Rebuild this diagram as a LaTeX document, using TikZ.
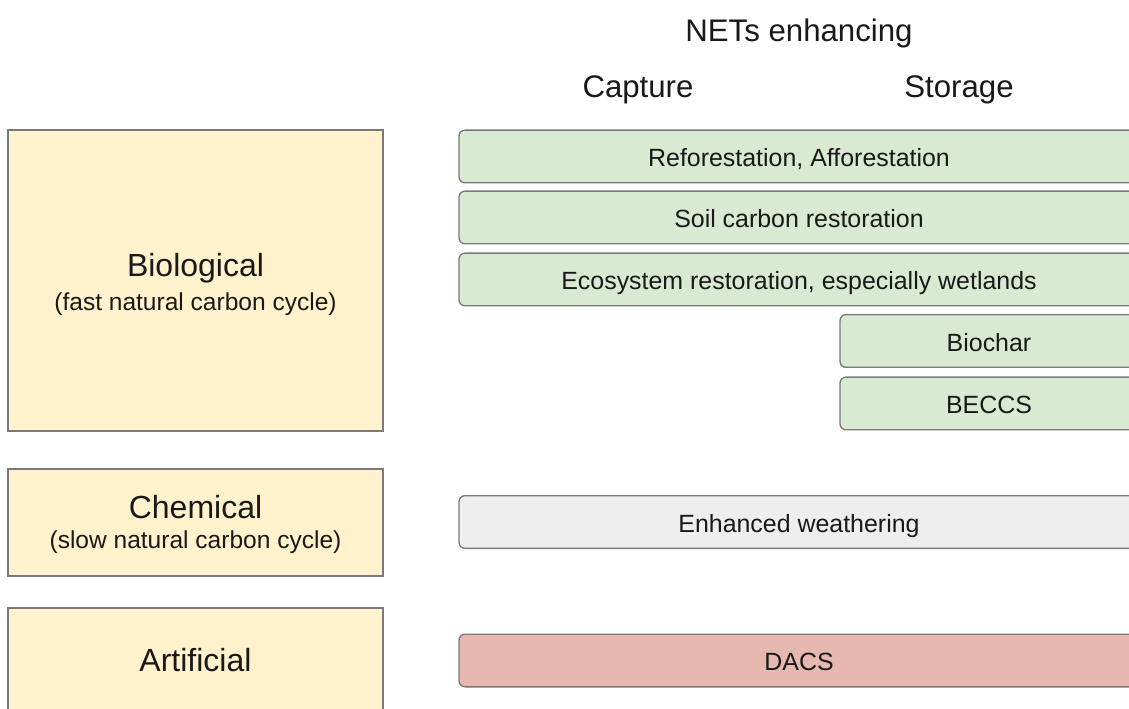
\documentclass[tikz,border=0pt]{standalone}
\usepackage{fontspec}
\setmainfont{Liberation Sans}
\definecolor{bordergray}{HTML}{7A7A7A}
\definecolor{yelfill}{HTML}{FFF2CC}
\definecolor{grnfill}{HTML}{D9EAD3}
\definecolor{gryfill}{HTML}{EEEEEE}
\definecolor{redfill}{HTML}{E6B8AF}
\begin{document}
\begin{tikzpicture}[x=0.75pt,y=-0.75pt,
  catbox/.style={draw=bordergray,fill=yelfill,line width=1pt,minimum width=281.25pt,inner sep=0pt},
  cattitle/.style={anchor=base,inner sep=0pt,font=\fontsize{24}{28}\selectfont,text=black!90},
  catsub/.style={anchor=base,inner sep=0pt,font=\fontsize{18.4}{22}\selectfont,text=black!90},
  netbox/.style={draw=bordergray,line width=1pt,rounded corners=4.5pt,minimum height=39.5pt,inner sep=0pt,
    text height=15.3pt,text depth=0pt,font=\fontsize{18.7}{22}\selectfont,text=black!90},
  widebox/.style={netbox,minimum width=510pt},
  narrowbox/.style={netbox,minimum width=223.5pt},
  head/.style={anchor=base,font=\fontsize{23.4}{28}\selectfont,text=black!90,inner sep=0pt}]
\useasboundingbox (0,0) rectangle (1129,709);
\clip (0,0) rectangle (1129,709);
\fill[white] (0,0) rectangle (1129,709);
% headers
\node[head] (nets) at (799,41.7) {NETs enhancing};
\node[head] (cap) at (638,98) {Capture};
\node[head] (sto) at (959,98) {Storage};
% category boxes
\node[catbox,minimum height=225.75pt] (bio) at (195.5,280.5) {};
\node[cattitle] (biot) at (195.5,277) {Biological};
\node[catsub] (bios) at (195.5,311) {(fast natural carbon cycle)};
\node[catbox,minimum height=80.25pt] (chem) at (195.5,522.5) {};
\node[cattitle] (chemt) at (195.5,518.3) {Chemical};
\node[catsub] (chems) at (195.5,548.3) {(slow natural carbon cycle)};
\node[catbox,minimum height=79.5pt] (art) at (195.5,661) {};
\node[cattitle] (artt) at (195.5,671.7) {Artificial};
% NET boxes
\node[widebox,fill=grnfill] (refo) at (799,156.5) {Reforestation, Afforestation};
\node[widebox,fill=grnfill] (soil) at (799,217.5) {Soil carbon restoration};
\node[widebox,fill=grnfill] (eco) at (799,279.5) {Ecosystem restoration, especially wetlands};
\node[narrowbox,fill=grnfill] (bioch) at (989,341) {Biochar};
\node[narrowbox,fill=grnfill] (beccs) at (989,403.5) {BECCS};
\node[widebox,fill=gryfill] (weath) at (799,522) {Enhanced weathering};
\node[widebox,fill=redfill] (dacs) at (799,660.5) {DACS};
\end{tikzpicture}
\end{document}
